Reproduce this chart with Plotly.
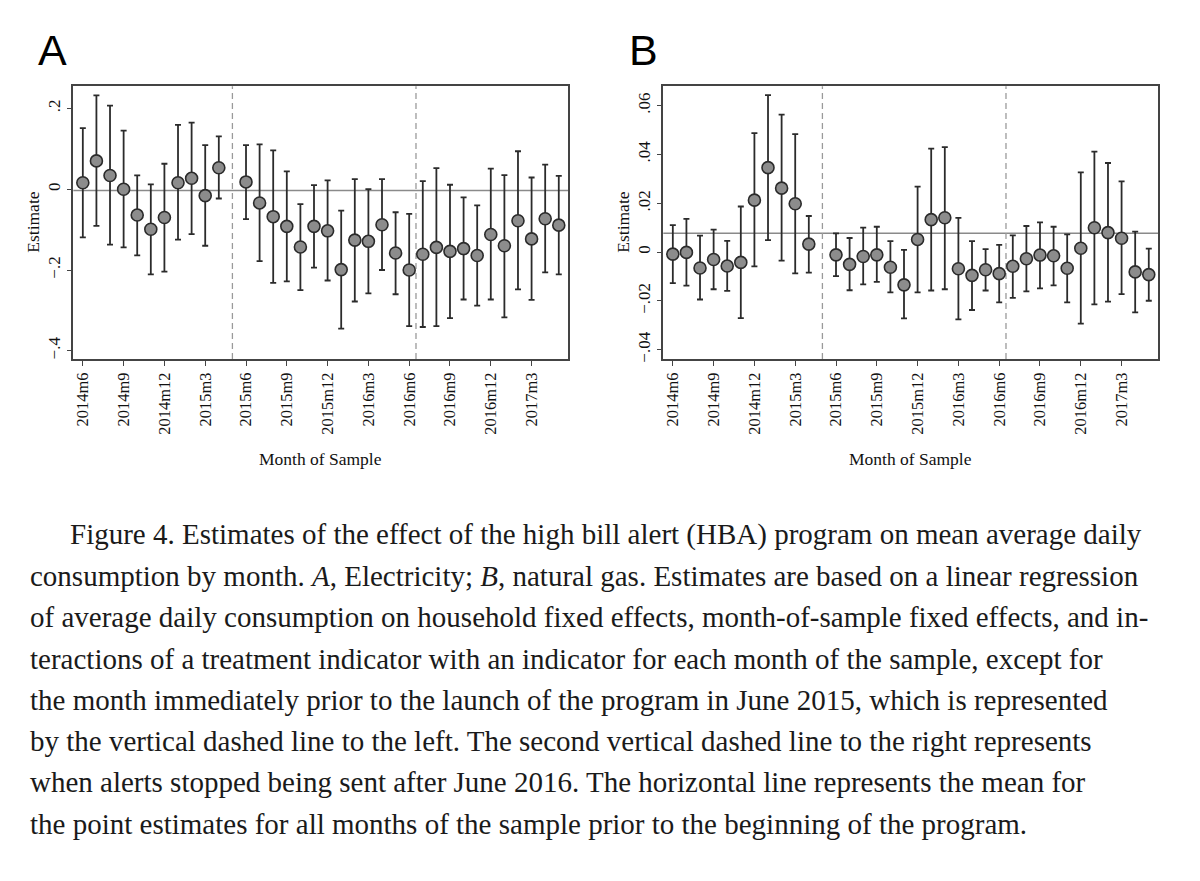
import plotly.graph_objects as go

W, H = 1200, 881
PAGE_PAD = 8  # the page body adds a small margin around the figure

# month of sample, 2014m6 .. 2017m5 ; 2015m5 is the omitted reference month
all_months = []
for yr in (2014, 2015, 2016, 2017):
    for mo in range(1, 13):
        lab = f"{yr}m{mo}"
        if (yr, mo) >= (2014, 6) and (yr, mo) <= (2017, 5):
            all_months.append(lab)
omitted = "2015m5"
months = [m for m in all_months if m != omitted]
tick_labels = ["2014m6", "2014m9", "2014m12", "2015m3", "2015m6", "2015m9",
               "2015m12", "2016m3", "2016m6", "2016m9", "2016m12", "2017m3"]
n_pre = 11  # estimates before the program launch

# A: electricity
elec_est = [0.016, 0.070, 0.034, 0.000, -0.064, -0.099, -0.070, 0.016, 0.027, -0.016, 0.053,
            0.018, -0.034, -0.068, -0.092, -0.143, -0.092, -0.103, -0.199, -0.126, -0.129, -0.088, -0.158, -0.200,
            -0.161, -0.144, -0.154, -0.147, -0.164, -0.112, -0.140, -0.078, -0.123, -0.073, -0.089]
elec_hi = [0.151, 0.232, 0.207, 0.145, 0.034, 0.012, 0.063, 0.159, 0.165, 0.109, 0.131,
           0.109, 0.111, 0.096, 0.044, -0.037, 0.010, 0.022, -0.053, 0.025, 0.000, 0.025, -0.057, -0.061,
           0.020, 0.052, 0.011, -0.020, -0.040, 0.051, 0.035, 0.094, 0.029, 0.061, 0.033]
elec_lo = [-0.119, -0.091, -0.137, -0.144, -0.164, -0.211, -0.204, -0.125, -0.111, -0.140, -0.023,
           -0.074, -0.178, -0.232, -0.228, -0.250, -0.194, -0.226, -0.345, -0.278, -0.258, -0.200, -0.260, -0.339,
           -0.341, -0.339, -0.319, -0.273, -0.288, -0.273, -0.317, -0.248, -0.274, -0.206, -0.211]

# B: natural gas
gas_est = [-0.0008, -0.0001, -0.0065, -0.0030, -0.0057, -0.0042, 0.0213, 0.0346, 0.0262, 0.0198, 0.0033,
           -0.0011, -0.0050, -0.0018, -0.0011, -0.0062, -0.0134, 0.0052, 0.0133, 0.0141, -0.0068, -0.0095, -0.0072, -0.0088,
           -0.0058, -0.0027, -0.0012, -0.0015, -0.0066, 0.0016, 0.0100, 0.0080, 0.0057, -0.0081, -0.0092]
gas_hi = [0.0111, 0.0136, 0.0068, 0.0092, 0.0046, 0.0187, 0.0487, 0.0643, 0.0563, 0.0483, 0.0148,
          0.0077, 0.0058, 0.0100, 0.0104, 0.0045, 0.0009, 0.0268, 0.0424, 0.0430, 0.0140, 0.0045, 0.0012, 0.0030,
          0.0069, 0.0107, 0.0122, 0.0104, 0.0073, 0.0327, 0.0412, 0.0365, 0.0290, 0.0084, 0.0014]
gas_lo = [-0.0127, -0.0137, -0.0194, -0.0152, -0.0159, -0.0270, -0.0058, 0.0049, -0.0035, -0.0087, -0.0084,
          -0.0098, -0.0156, -0.0132, -0.0122, -0.0165, -0.0271, -0.0165, -0.0157, -0.0152, -0.0275, -0.0237, -0.0157, -0.0206,
          -0.0187, -0.0161, -0.0148, -0.0136, -0.0206, -0.0293, -0.0214, -0.0203, -0.0172, -0.0247, -0.0199]

elec_ticks = [-0.4, -0.2, 0, 0.2]
elec_ticktext = ["\u2212.4", "\u2212.2", "0", ".2"]
gas_ticks = [-0.04, -0.02, 0, 0.02, 0.04, 0.06]
gas_ticktext = ["\u2212.04", "\u2212.02", "0", ".02", ".04", ".06"]

caption = [
    "Figure 4. Estimates of the effect of the high bill alert (HBA) program on mean average daily",
    "consumption by month. <i>A</i>, Electricity; <i>B</i>, natural gas. Estimates are based on a linear regression",
    "of average daily consumption on household fixed effects, month-of-sample fixed effects, and in-",
    "teractions of a treatment indicator with an indicator for each month of the sample, except for",
    "the month immediately prior to the launch of the program in June 2015, which is represented",
    "by the vertical dashed line to the left. The second vertical dashed line to the right represents",
    "when alerts stopped being sent after June 2016. The horizontal line represents the mean for",
    "the point estimates for all months of the sample prior to the beginning of the program.",
]

SERIF = "Liberation Serif, Times New Roman, serif"
DARK = "#2b2b2b"

x_pos = [all_months.index(m) for m in months]
launch_x = all_months.index(omitted)
stop_x = all_months.index("2016m6") + 0.5
tickvals = [all_months.index(t) for t in tick_labels]


# screen pixel -> paper fraction
def px_x(p):
    return (p - PAGE_PAD) / W


def px_y(p):
    return 1 - (p - PAGE_PAD) / H


fig = go.Figure()

panels = [
    ("x", "y", elec_est, elec_hi, elec_lo),
    ("x2", "y2", gas_est, gas_hi, gas_lo),
]
for xa, ya, est, hi, lo in panels:
    fig.add_trace(go.Scatter(
        x=x_pos, y=est, xaxis=xa, yaxis=ya, mode="markers",
        marker=dict(size=12, color="#8c8c8c", line=dict(color=DARK, width=1.6)),
        error_y=dict(type="data", symmetric=False,
                     array=[h - e for h, e in zip(hi, est)],
                     arrayminus=[e - l for e, l in zip(est, lo)],
                     color=DARK, thickness=1.8, width=3),
        showlegend=False,
    ))
    pre_mean = sum(est[:n_pre]) / n_pre
    fig.add_shape(type="line", xref=xa + " domain", yref=ya, x0=0, x1=1, y0=pre_mean, y1=pre_mean,
                  line=dict(color="#8a8a8a", width=1.5), layer="below")
    for vx in (launch_x, stop_x):
        fig.add_shape(type="line", xref=xa, yref=ya + " domain", x0=vx, x1=vx, y0=0, y1=1,
                      line=dict(color="#9a9a9a", width=1.3, dash="6px,4px"), layer="below")

y_dom = [px_y(360.7), px_y(86.7)]
axis_common = dict(showline=True, linecolor="#444", linewidth=1.5, mirror=True,
                   ticks="outside", ticklen=5, tickwidth=1.3, tickcolor="#444",
                   showgrid=False, zeroline=False)
x_font = dict(family=SERIF, size=16.5, color="#111")
y_font = dict(family=SERIF, size=17, color="#111")

fig.update_layout(
    width=W, height=H,
    margin=dict(l=0, r=0, t=0, b=0),
    paper_bgcolor="white", plot_bgcolor="white",
    xaxis=dict(domain=[px_x(73.3), px_x(568.3)], range=[-0.7, 35.7], anchor="y",
               tickvals=tickvals, ticktext=tick_labels, tickangle=-90, tickfont=x_font, **axis_common),
    yaxis=dict(domain=y_dom, range=[-0.4205, 0.2546], anchor="x",
               tickvals=elec_ticks, ticktext=elec_ticktext, tickangle=-90, tickfont=y_font, **axis_common),
    xaxis2=dict(domain=[px_x(663.3), px_x(1158.3)], range=[-0.7, 35.7], anchor="y2",
                tickvals=tickvals, ticktext=tick_labels, tickangle=-90, tickfont=x_font, **axis_common),
    yaxis2=dict(domain=y_dom, range=[-0.0438, 0.0679], anchor="x2",
                tickvals=gas_ticks, ticktext=gas_ticktext, tickangle=-90, tickfont=y_font, **axis_common),
)

ann = []
# panel letters
for letter, lx in (("A", 52), ("B", 643)):
    ann.append(dict(text=letter, x=px_x(lx), y=px_y(50), xref="paper", yref="paper",
                    xanchor="center", yanchor="middle", showarrow=False,
                    font=dict(family="Liberation Sans, Arial, sans-serif", size=43, color="#000")))
# axis titles
for cx, ex in ((320.8, 33), (910.8, 623)):
    ann.append(dict(text="Month of Sample", x=px_x(cx), y=px_y(461), xref="paper", yref="paper",
                    xanchor="center", yanchor="middle", showarrow=False,
                    font=dict(family=SERIF, size=17.5, color="#111")))
    ann.append(dict(text="Estimate", x=px_x(ex), y=px_y(223.7), xref="paper", yref="paper",
                    xanchor="center", yanchor="middle", showarrow=False, textangle=-90,
                    font=dict(family=SERIF, size=17.5, color="#111")))
# caption
for i, line in enumerate(caption):
    left = 68 if i == 0 else 28
    ann.append(dict(text=line, x=px_x(left), y=px_y(537 + i * 41.5), xref="paper", yref="paper",
                    xanchor="left", yanchor="middle", showarrow=False,
                    font=dict(family=SERIF, size=29, color="#1a1a1a")))
fig.update_layout(annotations=ann)

fig.write_html("out.html")
